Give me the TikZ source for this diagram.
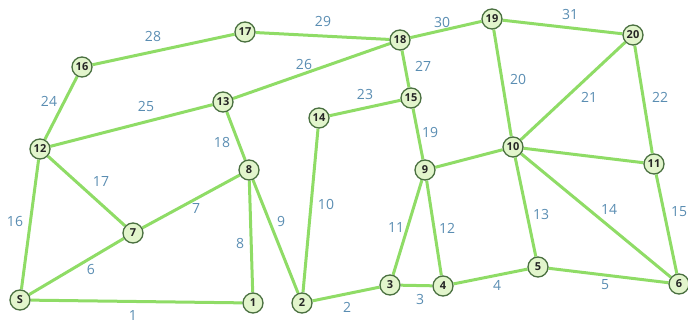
\documentclass[tikz,border=0pt]{standalone}
\usepackage{fontspec}
\setmainfont{Open Sans}
\usetikzlibrary{backgrounds}
\definecolor{edgegreen}{HTML}{8FDC66}
\definecolor{nodefill}{HTML}{E2F5CC}
\definecolor{nodeborder}{HTML}{4A7040}
\definecolor{lblblue}{HTML}{5A8DB2}
\begin{document}
\begin{tikzpicture}[x=1pt,y=-1pt,
  vtx/.style={circle,draw=nodeborder,line width=1.3pt,fill=nodefill,minimum size=20pt,inner sep=0pt,font=\fontsize{11}{11}\selectfont\bfseries,text=black!85},
  edg/.style={draw=edgegreen,line width=3pt},
  lbl/.style={text=lblblue,font=\fontsize{14}{14}\selectfont,inner sep=0pt}]
\useasboundingbox (0,0) rectangle (688,323);
\node[vtx] (S) at (20,300) {S};
\node[vtx] (n1) at (253,303) {1};
\node[vtx] (n2) at (302,303) {2};
\node[vtx] (n3) at (390,285) {3};
\node[vtx] (n4) at (443,286) {4};
\node[vtx] (n5) at (538,267) {5};
\node[vtx] (n6) at (679,284) {6};
\node[vtx] (n7) at (133,233) {7};
\node[vtx] (n8) at (249,170) {8};
\node[vtx] (n9) at (425,170) {9};
\node[vtx] (n10) at (513,147) {10};
\node[vtx] (n11) at (654,164) {11};
\node[vtx] (n12) at (40,149) {12};
\node[vtx] (n13) at (223,102) {13};
\node[vtx] (n14) at (319,118) {14};
\node[vtx] (n15) at (411,98) {15};
\node[vtx] (n16) at (82,67) {16};
\node[vtx] (n17) at (245,32) {17};
\node[vtx] (n18) at (400,40) {18};
\node[vtx] (n19) at (492,19) {19};
\node[vtx] (n20) at (633,35) {20};
\begin{pgfonlayer}{background}
\path[edg] (S) -- (n1) (n2) -- (n3) (n3) -- (n4) (n4) -- (n5) (n5) -- (n6)
  (S) -- (n7) (n7) -- (n8) (n8) -- (n1) (n8) -- (n2) (n2) -- (n14)
  (n3) -- (n9) (n9) -- (n4) (n10) -- (n5) (n10) -- (n6) (n11) -- (n6)
  (S) -- (n12) (n12) -- (n7) (n13) -- (n8) (n15) -- (n9) (n19) -- (n10)
  (n10) -- (n20) (n20) -- (n11) (n14) -- (n15) (n12) -- (n16) (n12) -- (n13)
  (n13) -- (n18) (n18) -- (n15) (n16) -- (n17) (n17) -- (n18) (n18) -- (n19)
  (n19) -- (n20) (n9) -- (n10) (n10) -- (n11);
\end{pgfonlayer}
\node[lbl] (l1) at (133,316) {1};
\node[lbl] (l2) at (347,307) {2};
\node[lbl] (l3) at (420,299) {3};
\node[lbl] (l4) at (497,285) {4};
\node[lbl] (l5) at (605,285) {5};
\node[lbl] (l6) at (91,269) {6};
\node[lbl] (l7) at (196,209) {7};
\node[lbl] (l8) at (240,243) {8};
\node[lbl] (l9) at (281,222) {9};
\node[lbl] (l10) at (326,204) {10};
\node[lbl] (l11) at (396,228) {11};
\node[lbl] (l12) at (447,228) {12};
\node[lbl] (l13) at (541,215) {13};
\node[lbl] (l14) at (609,209) {14};
\node[lbl] (l15) at (679,212) {15};
\node[lbl] (l16) at (15,222) {16};
\node[lbl] (l17) at (101,182) {17};
\node[lbl] (l18) at (222,143) {18};
\node[lbl] (l19) at (430,133) {19};
\node[lbl] (l20) at (518,79) {20};
\node[lbl] (l21) at (589,97) {21};
\node[lbl] (l22) at (660,97) {22};
\node[lbl] (l23) at (365,95) {23};
\node[lbl] (l24) at (49,101) {24};
\node[lbl] (l25) at (146,107) {25};
\node[lbl] (l26) at (304,65) {26};
\node[lbl] (l27) at (423,66) {27};
\node[lbl] (l28) at (153,37) {28};
\node[lbl] (l29) at (323,22) {29};
\node[lbl] (l30) at (442,22) {30};
\node[lbl] (l31) at (570,15) {31};
\end{tikzpicture}
\end{document}
